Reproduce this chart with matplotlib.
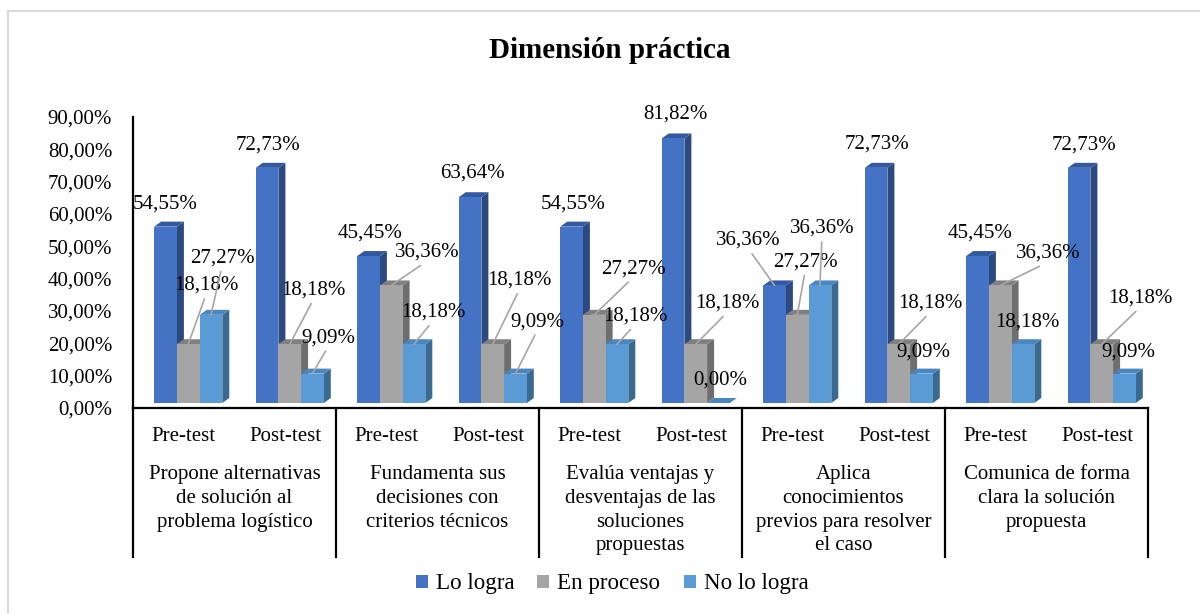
import matplotlib
matplotlib.use("Agg")
import matplotlib.pyplot as plt
from matplotlib.patches import Polygon, Patch
from matplotlib.transforms import ScaledTranslation, blended_transform_factory

# ---------------- data ----------------
title = "Dimensión práctica"
criteria = [
    "Propone alternativas\nde solución al\nproblema logístico",
    "Fundamenta sus\ndecisiones con\ncriterios técnicos",
    "Evalúa ventajas y\ndesventajas de las\nsoluciones\npropuestas",
    "Aplica\nconocimientos\nprevios para resolver\nel caso",
    "Comunica de forma\nclara la solución\npropuesta",
]
phases = ["Pre-test", "Post-test"]
series_names = ["Lo logra", "En proceso", "No lo logra"]
lo_logra = [54.55, 72.73, 45.45, 63.64, 54.55, 81.82, 36.36, 72.73, 45.45, 72.73]
en_proceso = [18.18, 18.18, 36.36, 18.18, 27.27, 18.18, 27.27, 18.18, 36.36, 18.18]
no_lo_logra = [27.27, 9.09, 18.18, 9.09, 18.18, 0.00, 36.36, 9.09, 18.18, 9.09]
y_ticks = [0, 10, 20, 30, 40, 50, 60, 70, 80, 90]

# ---------------- style ----------------
FONT = "Liberation Serif"
plt.rcParams["font.family"] = [FONT, "DejaVu Serif"]
front_colors = ["#4472C4", "#A5A5A5", "#5B9BD5"]
side_colors = ["#2C4A80", "#6E6E6E", "#3A6A90"]
top_colors = ["#3359A0", "#808080", "#4A86C0"]
leader_color = "#A6A6A6"
FS = 15

# label offsets (pixels, +x right, +y down) from each bar's front-top centre
label_offsets = [
    [(0, -23), (1, -23), (1.5, -23), (2, -24), (2, -23), (2, -24), (-26, -45), (1, -24), (3, -23), (5, -23)],
    [(18, -59), (24, -54), (36, -33), (27, -64), (39, -46), (32, -41), (8, -53), (32, -41), (48, -32), (39, -46)],
    [(11, -57), (16, -36), (19, -32), (22, -52), (18, -28), (2, -23), (2, -57), (2, -22), (4, -22), (4, -22)],
]

W, H, DPI = 1200, 614, 100
fig = plt.figure(figsize=(W / DPI, H / DPI), dpi=DPI)
ax_left, ax_right, ax_top, ax_bot = 133, 1148, 117, 408
ax = fig.add_axes([ax_left / W, 1 - ax_bot / H, (ax_right - ax_left) / W, (ax_bot - ax_top) / H])

n = len(lo_logra)
ax.set_xlim(-0.5, n - 0.5)
ax.set_ylim(0, 90)
ax.set_yticks(y_ticks)
ax.set_yticklabels([f"{v:.2f}".replace(".", ",") + "%" for v in y_ticks], fontsize=FS)
ax.tick_params(axis="y", length=0, pad=15)
ax.set_xticks(range(n))
ax.set_xticklabels(phases * len(criteria), fontsize=FS)
ax.tick_params(axis="x", length=0, pad=13.5)
for s in ["top", "right"]:
    ax.spines[s].set_visible(False)
for s in ["left", "bottom"]:
    ax.spines[s].set_linewidth(1.6)
    ax.spines[s].set_color("black")

slot_px = (ax_right - ax_left) / n
px_per_unit_y = (ax_bot - ax_top) / 90.0
bar_w = 22.7 / slot_px
shift = 4.5 / slot_px
ddx = 7.0 / slot_px
ddy = 5.0 / px_per_unit_y

bar_trans = ax.transData + ScaledTranslation(0, 5 / DPI, fig.dpi_scale_trans)

series = [lo_logra, en_proceso, no_lo_logra]
for i in range(n):
    for j, vals in enumerate(series):
        v = vals[i]
        x0 = i + shift - 1.5 * bar_w + j * bar_w
        x1 = x0 + bar_w
        side = Polygon([(x1, 0), (x1 + ddx, ddy), (x1 + ddx, v + ddy), (x1, v)], closed=True,
                       facecolor=side_colors[j], edgecolor="none", transform=bar_trans, clip_on=False)
        top = Polygon([(x0, v), (x1, v), (x1 + ddx, v + ddy), (x0 + ddx, v + ddy)], closed=True,
                      facecolor=top_colors[j], edgecolor="none", transform=bar_trans, clip_on=False)
        front = Polygon([(x0, 0), (x1, 0), (x1, v), (x0, v)], closed=True,
                        facecolor=front_colors[j], edgecolor="none", transform=bar_trans, clip_on=False)
        ax.add_patch(side)
        ax.add_patch(top)
        ax.add_patch(front)

# data labels
for j, vals in enumerate(series):
    for i in range(n):
        v = vals[i]
        cx = i + shift - 1.5 * bar_w + (j + 0.5) * bar_w
        dx, dy = label_offsets[j][i]
        txt = f"{v:.2f}".replace(".", ",") + "%"
        far = (dx ** 2 + dy ** 2) ** 0.5 > 27
        arrow = dict(arrowstyle="-", color=leader_color, lw=1.2, shrinkA=1, shrinkB=0,
                     relpos=(0.5, 0.05)) if far else None
        ax.annotate(txt, xy=(cx, v), xycoords=bar_trans, xytext=(dx, -dy),
                    textcoords="offset pixels", ha="center", va="center", fontsize=FS,
                    arrowprops=arrow, annotation_clip=False, zorder=5)

# category separators and group labels
bt = blended_transform_factory(ax.transData, ax.transAxes)
sep_bottom = -(557 - ax_bot) / (ax_bot - ax_top)
for k in range(len(criteria) + 1):
    xs = -0.5 + 2 * k
    ax.plot([xs, xs], [0, sep_bottom], color="black", lw=1.6, transform=bt, clip_on=False)
for k, lab in enumerate(criteria):
    ax.text(2 * k + 0.5, -(465 - ax_bot) / (ax_bot - ax_top), lab, transform=bt,
            ha="center", va="top", fontsize=FS, linespacing=1.34, multialignment="center")

# title
fig.text(610 / W, 1 - 51 / H, title, ha="center", va="center", fontsize=21, fontweight="bold")

# legend
handles = [Patch(facecolor=c, edgecolor="none") for c in front_colors]
fig.legend(handles, series_names, loc="center", bbox_to_anchor=(612 / W, 1 - 584 / H), ncol=3,
           frameon=False, fontsize=16.6, handlelength=0.52, handleheight=0.52,
           handletextpad=0.35, columnspacing=1.0, borderaxespad=0, borderpad=0)

# outer chart border (top and left visible)
fig.add_artist(plt.Line2D([8 / W, 1], [1 - 11 / H, 1 - 11 / H], color="#D9D9D9", lw=1.5,
                          transform=fig.transFigure))
fig.add_artist(plt.Line2D([8 / W, 8 / W], [0, 1 - 11 / H], color="#D9D9D9", lw=1.5,
                          transform=fig.transFigure))

fig.savefig("out.png", dpi=DPI)
